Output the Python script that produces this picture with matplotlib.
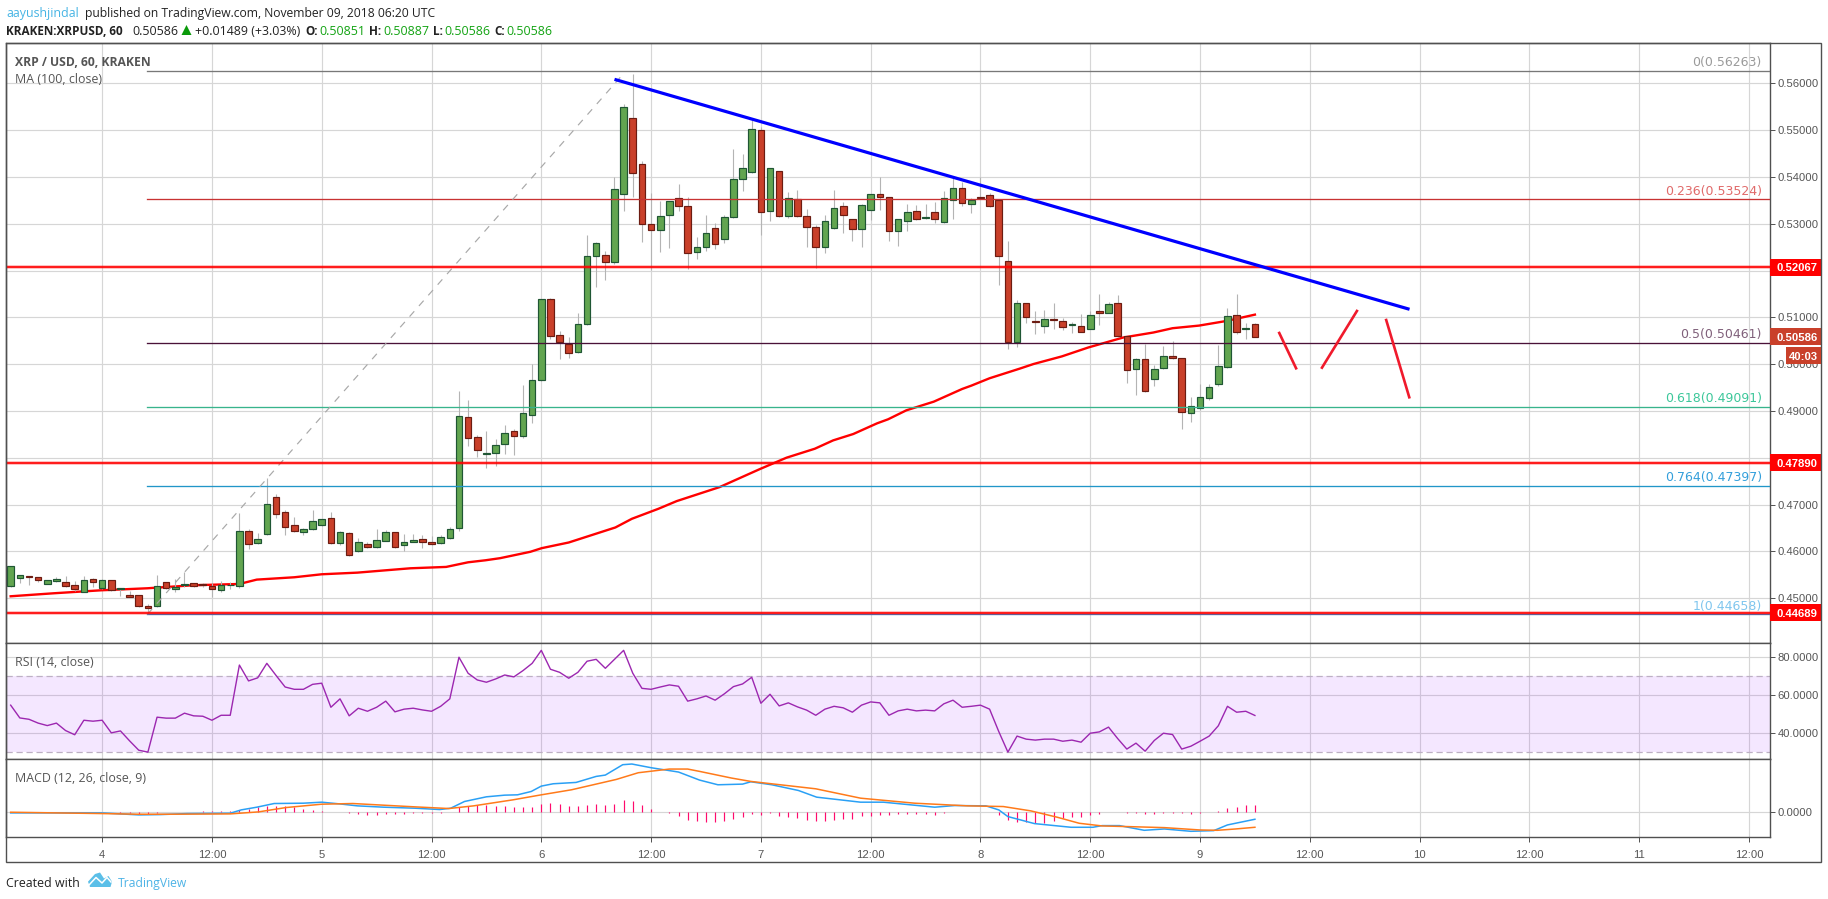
import matplotlib
matplotlib.use("Agg")
import matplotlib.pyplot as plt
from matplotlib.patches import Polygon, Rectangle

W, H = 1828, 899
plt.rcParams["font.family"] = ["Liberation Sans", "DejaVu Sans"]

# hours since Nov 4 00:00, hourly bars
first_hour = -10
candle_open = [
    .45271, .45442, .45470, .45449, .45313, .45377, .45342, .45278, .45142, .45406,
    .45228, .45385, .45192, .45064, .45064, .44829, .44829, .45342, .45192, .45285,
    .45320, .45299, .45271, .45185, .45278, .45271, .46432, .46189, .46368, .47158,
    .46838, .46560, .46425, .46474, .46560, .46709, .46175, .46389, .46004, .46154,
    .46090, .46232, .46410, .46132, .46211, .46261, .46197, .46175, .46282, .46496,
    .48868, .48454, .48091, .48098, .48291, .48568, .48462, .48925, .49658, .51390,
    .50634, .50423, .50252, .50850, .52303, .52325, .52175, .53628, .55252, .54269,
    .52987, .52859, .53179, .53543, .53372, .52389, .52496, .52902, .52667, .53137,
    .53949, .54098, .54996, .53265, .54120, .53158, .53521, .53158, .52923, .52496,
    .52902, .53372, .53094, .52880, .53286, .53628, .53564, .52838, .53051, .53265,
    .53115, .53244, .53030, .53500, .53756, .53415, .53564, .53607, .53500, .52197,
    .50480, .51299, .50931, .50825, .50974, .50931, .50846, .50825, .50762, .51144,
    .51101, .51314, .50592, .49891, .50103, .49679, .49912, .50167, .50125, .48957,
    .49063, .49275, .49573, .49933, .51059, .50762, .50851,
]
candle_high = [
    .45684, .45491, .45470, .45449, .45385, .45456, .45470, .45370, .45470, .45427,
    .45413, .45392, .45214, .45150, .45070, .44879, .45499, .45350, .45413, .45570,
    .45335, .45320, .45320, .45363, .45356, .46823, .46474, .46389, .47564, .47229,
    .46887, .46738, .46503, .46887, .46701, .46845, .46439, .46410, .46282, .46204,
    .46481, .46453, .46417, .46375, .46375, .46353, .46332, .46353, .46524, .49430,
    .49238, .48490, .48575, .48405, .48704, .48618, .49558, .50007, .51400, .51410,
    .50700, .50573, .51085, .52759, .52600, .52417, .54006, .55558, .56199, .54333,
    .53650, .53486, .53490, .53849, .53564, .52717, .53187, .53009, .53179, .54597,
    .54490, .55217, .55060, .54200, .54130, .53678, .53721, .53315, .52973, .53187,
    .53721, .53464, .53110, .53422, .53640, .54006, .53580, .53094, .53422, .53400,
    .53422, .53464, .53700, .53970, .53899, .53543, .53991, .53650, .53520, .52631,
    .51370, .51310, .51130, .51151, .51300, .50995, .50910, .51066, .51130, .51490,
    .51321, .51469, .50613, .50139, .50429, .49983, .50386, .50493, .50135, .49297,
    .49580, .49580, .50408, .51193, .51490, .50889, .50887,
]
candle_low = [
    .45249, .45320, .45285, .45342, .45313, .45342, .45249, .45150, .45135, .45242,
    .45192, .45164, .45050, .45021, .44822, .44679, .44808, .45192, .45142, .45249,
    .45235, .45249, .45028, .45142, .45199, .45228, .46061, .46168, .46353, .46724,
    .46360, .46425, .46360, .46460, .46553, .46168, .46147, .45912, .45990, .46075,
    .46075, .46225, .46083, .46011, .46204, .46075, .46132, .46161, .46268, .46446,
    .48255, .48020, .47792, .47835, .48084, .48063, .48433, .48746, .49640, .50534,
    .50114, .50124, .50231, .50836, .51655, .51798, .52140, .53279, .53578, .52617,
    .52011, .52403, .52489, .53279, .52026, .52254, .52425, .52467, .52595, .53123,
    .53707, .54077, .52759, .53066, .53151, .53123, .53151, .52510, .52047, .52382,
    .52895, .52809, .52631, .52510, .53087, .53293, .52631, .52531, .52845, .53080,
    .53094, .53023, .53023, .53108, .53386, .53236, .53521, .53358, .51691, .50317,
    .50373, .50886, .50655, .50662, .50760, .50733, .50662, .50684, .50755, .50832,
    .51087, .50585, .49608, .49332, .49410, .49544, .49898, .50110, .48610, .48759,
    .49013, .49240, .49544, .49919, .50641, .50542, .50586,
]
candle_close = [
    .45684, .45491, .45463, .45399, .45385, .45406, .45271, .45207, .45385, .45356,
    .45385, .45178, .45214, .45036, .44843, .44801, .45256, .45221, .45235, .45299,
    .45271, .45278, .45207, .45278, .45292, .46432, .46154, .46261, .47009, .46795,
    .46517, .46446, .46474, .46645, .46688, .46175, .46410, .45933, .46197, .46090,
    .46239, .46410, .46104, .46197, .46246, .46197, .46154, .46303, .46474, .48903,
    .48419, .48162, .48098, .48269, .48526, .48476, .48953, .49658, .51390, .50613,
    .50470, .50231, .50850, .52303, .52581, .52175, .53735, .55487, .54077, .52987,
    .52859, .53158, .53479, .53372, .52368, .52496, .52795, .52560, .53137, .53949,
    .54184, .55017, .53244, .54184, .53158, .53543, .53158, .52923, .52496, .53051,
    .53329, .53179, .52880, .53393, .53628, .53564, .52838, .53094, .53244, .53094,
    .53137, .53094, .53543, .53756, .53436, .53500, .53543, .53372, .52303, .50466,
    .51299, .51000, .50903, .50974, .50953, .50804, .50868, .50698, .51059, .51101,
    .51292, .50613, .49870, .50103, .49424, .49891, .50167, .50125, .48978, .49105,
    .49297, .49509, .49955, .51037, .50698, .50783, .50586,
]

ma_hours = [-10, -5.3, -0.1, 4.95, 9.9, 15, 16.9, 21, 24, 27.9, 31, 33.7, 37.6, 40, 41.9,
            43.5, 46.8, 48.05, 51, 56.1, 57.9, 60.8, 62.8, 67.5, 71.9, 74.8, 77.9, 79.9,
            82.1, 84.7, 85.9, 87.9, 90.9, 94, 95, 97, 100.3, 101.8, 104.9, 107.8, 111.6,
            114.9, 117, 119.9, 122.9, 126]
ma_values = [.45043, .45107, .45171, .45214, .45278, .45306, .45399, .45449, .45513, .45548,
             .45598, .45641, .45670, .45769, .45812, .45857, .45993, .46071, .46192, .46513,
             .46698, .46912, .47076, .47376, .47761, .48003, .48195, .48373, .48509, .48737,
             .48823, .49015, .49200, .49471, .49542, .49700, .49906, .50004, .50167, .50358,
             .50570, .50677, .50769, .50825, .50924, .51059]

fib_levels = [("0", .56263, "#787878", "#9a9a9a"),
              ("0.236", .53524, "#c83232", "#e06a6a"),
              ("0.5", .50461, "#4a1238", "#80607a"),
              ("0.618", .49091, "#38b48c", "#3cc79a"),
              ("0.764", .47397, "#2196c8", "#339fdb"),
              ("1", .44658, "#3a78c0", "#80c6ee")]
support_levels = [.52067, .47890, .44689]

trend_hours = [56, 142.9]
trend_prices = [.56085, .51173]
fib_trend_hours = [4.95, 57]
fib_trend_prices = [.44658, .5621]
sketch_strokes = [([128.66, 130.5], [.50667, .49913]),
                  ([133.33, 137.15], [.49926, .51137]),
                  ([140.35, 142.87], [.50944, .49294])]

rsi_values = [
    54.6, 47.9, 47.2, 45.2, 43.9, 45.2, 41.3, 39.1, 46.7, 46.2,
    46.7, 40.1, 41.1, 35.9, 31.0, 30.0, 48.3, 47.8, 47.8, 50.4,
    49.0, 48.8, 46.7, 49.3, 49.3, 75.6, 67.3, 68.9, 76.5, 70.2,
    64.1, 62.9, 62.9, 65.5, 66.1, 53.5, 57.9, 49.0, 53.0, 51.4,
    53.5, 56.7, 51.1, 52.5, 53.0, 52.1, 51.4, 54.0, 57.9, 79.7,
    71.3, 67.8, 66.6, 68.3, 70.4, 69.4, 72.7, 76.5, 83.3, 73.4,
    71.8, 68.7, 71.8, 77.6, 78.6, 73.9, 78.6, 83.3, 71.3, 63.4,
    62.9, 64.1, 65.2, 64.5, 56.7, 57.9,
    59.4, 57.2, 60.5, 64.3, 65.7, 69.2, 55.6, 60.3, 54.2, 55.8,
    53.7, 52.0, 49.3, 52.5, 54.0, 53.2, 50.9, 54.6, 56.3, 55.8,
    49.3, 51.6, 52.5, 51.6, 52.0, 51.6, 55.3, 57.2, 53.5, 54.0,
    54.6, 52.5, 40.8, 30.0, 38.4, 36.8, 36.3, 36.8, 36.8, 35.7,
    36.3, 35.2, 39.9, 40.6, 43.1, 37.1, 31.6, 34.7, 30.5, 36.1,
    39.9, 39.2, 31.6, 33.1, 35.7, 38.4, 43.8, 54.0, 50.9, 51.4, 49.2,
]

# macd values in units of 0.001
macd_hours = [-10, 0, 2, 4, 6.4, 9.3, 14, 15.2, 16.9, 18.8, 22, 24, 25.9, 27.9, 30.8, 34.2,
              36.9, 38.1, 39.6, 42, 44, 45.4, 46.9, 48, 49.3, 51.8, 54, 55, 56.9, 57.9, 60,
              63, 65.3, 67.3, 70, 70.9, 73.2, 76.1, 78.1, 82.9, 85.4, 91, 93.2, 96.6, 98,
              99, 101.9, 105.9, 108.3, 109.3, 111.2, 113.9, 116.1, 119, 121.5, 123, 126]
macd_values = [-.57, -.57, -1, -1.43, -1.29, -.86, -.71, .71, 1.86, 3.43, 3.57, 4, 3.29, 2.43,
               1.86, 1.43, .86, 1.43, 4.29, 6.29, 7, 7.14, 8.57, 10.86, 11.86, 12.43, 15,
               15.57, 20, 20.29, 18.71, 16.86, 13.43, 11.43, 11.71, 12.71, 11.43, 9, 6.14,
               4, 4, 1.86, 2.57, 2.43, .71, -2.14, -5.14, -6.71, -6.71, -6, -6, -8, -7.43,
               -8.43, -8.14, -5.71, -3.29]
signal_hours = [-10, 0, 4, 7.4, 14, 17.1, 20.1, 24, 27.4, 30.8, 34.2, 37.9, 40.6, 44.9, 48,
                51.3, 56.2, 58.6, 62, 64, 65.3, 68.8, 70.9, 78, 82.9, 88.8, 94.6, 98.5,
                101.5, 104.4, 106.8, 109.3, 112.2, 116.1, 120, 121.9, 123.9, 126]
signal_values = [-.29, -.86, -1.14, -1.14, -1, -.14, 1.71, 3.14, 3.43, 2.71, 2, 1.29, 2.43, 5,
                 7.14, 9.29, 13.71, 16.57, 18.14, 18.14, 17.14, 14.29, 12.86, 9.71, 5.71,
                 3.57, 2.43, 2.14, .29, -2.43, -5, -6.14, -6.43, -6.86, -7.86, -8, -7.43,
                 -6.71]
hist_values = [
    -.3, -.4, -.4, -.4, -.4, -.4, -.4, -.4, -.4, -.4,
    -.4, -.4, -.6, -.6, -1, -1, -.7, -.4, -.1, 0,
    0, .3, .3, .3, .3, .6, 1.3, 2, 2.3, 2.4,
    2.2, 2, 1.3, .7, .2, -.1, -.4, -.8, -1.2, -1.4,
    -1.5, -1, -1.1, -.9, -.8, -.7, -.7, -.6, -.4, 2,
    2.4, 2.9, 2.7, 2.4, 2.4, 2, 2, 2, 3.3, 3.7,
    3.4, 2.4, 2.4, 2.9, 3.3, 2.8, 3.3, 5, 4.7, 2.8,
    1, 0, -.8, -1.8, -3.5, -4, -4.3, -4.3, -4, -3,
    -2.3, -1, -1.3, -.8, -2, -2.3, -2.7, -3.7, -3.9, -4,
    -3.6, -3.1, -3.2, -2, -1.7, -1.4, -1.3, -1.2, -1.1, -1.2,
    -1.2, -1.4, -.6, -.4, -.4, -.3, -.3, -.4, -1.3, -3.6,
    -4.3, -4.3, -5, -5, -4, -2.8, -2.4, -2.4, -1.3, -1.1,
    0, 0, -.6, -.6, -.9, -.9, -.7, -.5, -.8, -1,
    -.7, -.4, .4, 1.6, 2, 2.7, 2.7,
]

price_ticks = [.45, .46, .47, .48, .49, .50, .51, .52, .53, .54, .55, .56]
rsi_ticks = [40, 60, 80]
time_ticks = list(range(0, 181, 12))
time_labels = ["4", "12:00", "5", "12:00", "6", "12:00", "7", "12:00",
               "8", "12:00", "9", "12:00", "10", "12:00", "11", "12:00"]

up_fill, up_edge = "#62a550", "#1f5634"
down_fill, down_edge = "#c9402a", "#6c1c12"
grid_color = "#d6d6d6"
frame_color = "#505050"
text_color = "#555555"


def fx(x):
    return x / W


def fy(y):
    return 1 - y / H


def make_axes(top, bottom):
    return fig.add_axes([fx(6), fy(bottom), fx(1770 - 6), (bottom - top) / H])


fig = plt.figure(figsize=(W / 100, H / 100), dpi=100, facecolor="white")
ax = make_axes(43, 643)
ax_rsi = make_axes(643, 759)
ax_macd = make_axes(759, 837)

for a in (ax, ax_rsi, ax_macd):
    a.set_xlim(-10.51, 182.3)
    a.set_axisbelow(True)
    a.grid(True, color=grid_color, lw=0.85)
    a.yaxis.tick_right()
    a.tick_params(axis="y", length=3.5, width=0.7, color=frame_color, labelcolor=text_color,
                  labelsize=8.1, pad=2)
    a.set_xticks(time_ticks)
    for s in a.spines.values():
        s.set_color(frame_color)
        s.set_linewidth(1.0)

ax.set_ylim(.44045, .56861)
ax.set_yticks(price_ticks)
ax.set_yticklabels([f"{p:.5f}" for p in price_ticks])
ax.tick_params(axis="x", length=0, labelbottom=False)
ax_rsi.tick_params(axis="x", length=0, labelbottom=False)

hours = [first_hour + i for i in range(len(candle_close))]

# price pane
ax.plot(ma_hours, ma_values, color="#ff0000", lw=1.7, zorder=2)
ax.vlines(hours, candle_low, candle_high, color="#b4b4b4", lw=0.8, zorder=3)
for h, o, c in zip(hours, candle_open, candle_close):
    up = c >= o
    ax.bar(h, abs(c - o), bottom=min(o, c), width=0.72, color=up_fill if up else down_fill,
           edgecolor=up_edge if up else down_edge, linewidth=0.85, zorder=4)

for name, level, line_col, text_col in fib_levels:
    ax.plot([4.95, 182.2], [level, level], color=line_col, lw=0.95, zorder=5)
    ax.text(181.4, level + .00035, f"{name}({level:.5f})", color=text_col, ha="right", va="bottom",
            fontsize=9, family="DejaVu Sans", zorder=6)
ax.plot(fib_trend_hours, fib_trend_prices, color="#a8a8a8", lw=0.85, ls=(0, (6, 6)), zorder=5)

for level in support_levels:
    ax.axhline(level, color="#ff0000", lw=2.6, alpha=0.3, zorder=6)
    ax.axhline(level, color="#ff0000", lw=1.2, zorder=6)

ax.plot(trend_hours, trend_prices, color="#0000ff", lw=2.3, solid_capstyle="butt", zorder=7)
for xs, ys in sketch_strokes:
    ax.plot(xs, ys, color="#f01a2c", lw=1.9, zorder=7)

# labels on the price scale
box_w = 51 / 1764
box_h = 17 / 4682
for level, col in [(.52067, "#ff0000"), (.47890, "#ff0000"), (.44689, "#ff0000"),
                   (.50586, "#c9402a")]:
    ax.add_patch(Rectangle((1, level - box_h / 2), box_w, box_h, facecolor=col, edgecolor="none",
                           transform=ax.get_yaxis_transform(), clip_on=False, zorder=8))
    ax.text(1 + 7 / 1764, level, f"{level:.5f}", color="white", fontsize=8.1, fontweight="bold",
            va="center_baseline", transform=ax.get_yaxis_transform(), clip_on=False, zorder=9)

# rsi pane
ax_rsi.set_ylim(26.4, 87.15)
ax_rsi.set_yticks(rsi_ticks)
ax_rsi.set_yticklabels([f"{v:.4f}" for v in rsi_ticks])
ax_rsi.axhspan(30, 70, color="#9915ff", alpha=0.1, lw=0, zorder=1)
for level in (30, 70):
    ax_rsi.axhline(level, color="#bdb0c4", lw=0.9, ls=(0, (5, 3)), zorder=2)
ax_rsi.plot(hours, rsi_values, color="#9c27b0", lw=1.0, zorder=3)

# macd pane
ax_macd.set_ylim(-10.86, 22.43)
ax_macd.set_yticks([0])
ax_macd.set_yticklabels(["0.0000"])
ax_macd.vlines(hours, 0, hist_values, color="#ff0a6c", lw=0.85, zorder=2)
ax_macd.plot(macd_hours, macd_values, color="#2aa0f5", lw=1.1, zorder=3)
ax_macd.plot(signal_hours, signal_values, color="#ff7a1a", lw=1.1, zorder=4)
ax_macd.set_xticklabels(time_labels)
ax_macd.tick_params(axis="x", length=3.5, width=0.7, color=frame_color, labelcolor=text_color,
                    labelsize=8.1, pad=6)

# outer frame and countdown box
fig.add_artist(Rectangle((fx(6), fy(862)), fx(1821 - 6), 819 / H, fill=False,
                         edgecolor=frame_color, lw=1.0, transform=fig.transFigure, zorder=1))
fig.add_artist(Rectangle((fx(1786), fy(364)), fx(35), 17 / H, facecolor="#c9402a",
                         edgecolor="none", transform=fig.transFigure, zorder=5))
fig.text(fx(1803.5), fy(355.5), "40:03", color="white", fontsize=8.1, fontweight="bold",
         ha="center", va="center_baseline", zorder=6)


def label(x, y, s, color="#222222", size=8.9, weight="normal"):
    fig.text(fx(x), fy(y), s, color=color, fontsize=size, fontweight=weight, va="center_baseline",
             family=["Open Sans", "DejaVu Sans"], zorder=6)


# header
label(6, 12, "aayushjindal", color="#46b4e4", size=8.9)
label(85, 12, "published on TradingView.com, November 09, 2018 06:20 UTC", size=8.7)
label(6, 30, "KRAKEN:XRPUSD, 60", weight="bold", size=8.5)
label(132, 30, "0.50586", size=8.9)
fig.add_artist(Polygon([(fx(181.5), fy(35)), (fx(191.5), fy(35)), (fx(186.5), fy(25))],
                       closed=True, facecolor="#0a9a0a", edgecolor="none",
                       transform=fig.transFigure, zorder=6))
label(195, 30, "+0.01489 (+3.03%)")
for x_key, key, x_val, val in [(305, "O:", 319, "0.50851"), (369, "H:", 383, "0.50887"),
                               (433, "L:", 444, "0.50586"), (494, "C:", 506, "0.50586")]:
    label(x_key, 30, key, weight="bold", size=8.5)
    label(x_val, 30, val, color="#12a312")

label(15, 60.7, "XRP / USD, 60, KRAKEN", color="#555555", weight="bold", size=8.7)
label(15, 77.7, "MA (100, close)", color="#555555")
label(15, 660.7, "RSI (14, close)", color="#555555")
label(15, 776.7, "MACD (12, 26, close, 9)", color="#555555")

# footer with logo
label(6, 881.7, "Created with", color="#222222")
logo = [(88, 881.7), (95, 874), (100, 872.5), (104, 878.5), (108.5, 876), (112, 881.7),
        (110.5, 887), (90, 887)]
fig.add_artist(Polygon([(fx(x), fy(y)) for x, y in logo], closed=True, facecolor="#5bbfe8",
                       edgecolor="none", transform=fig.transFigure, zorder=6))
zigzag = [(89, 885), (96, 877.5), (102, 883), (107, 877.5), (111, 882)]
fig.add_artist(plt.Line2D([fx(x) for x, _ in zigzag], [fy(y) for _, y in zigzag], color="white",
                          lw=1.1, transform=fig.transFigure, zorder=7))
label(118, 881.7, "TradingView", color="#4db3e6", size=8.7)

fig.savefig("out.png", dpi=100)
